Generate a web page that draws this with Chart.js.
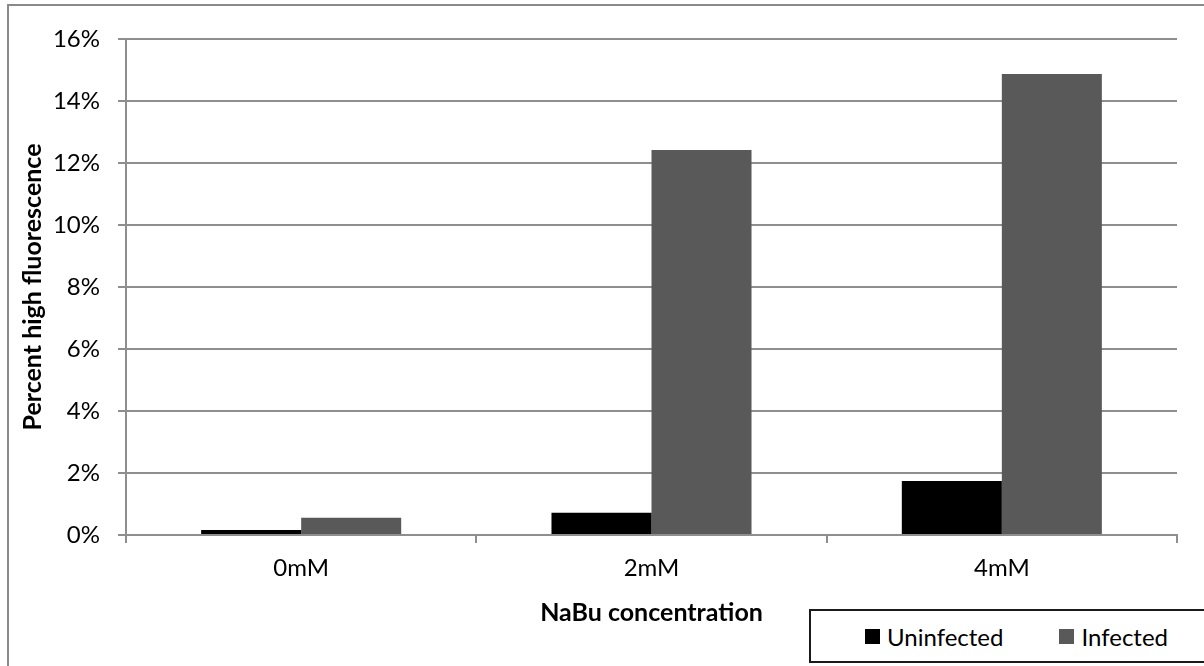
<!DOCTYPE html>
<html>
<head>
<meta charset="utf-8">
<script src="https://cdn.jsdelivr.net/npm/chart.js@4"></script>
<style>
  body { margin: 0; background: #fff; overflow: hidden; }
  .wrap { position: relative; width: 1204px; height: 666px; }
  .legend-box {
    position: absolute; left: 809px; top: 609px; width: 420px; height: 54px;
    border: 2px solid #1a1a1a; background: #fff;
    font-family: Lato, sans-serif; font-size: 24px; color: #000;
    display: flex; align-items: center; padding-left: 54px; box-sizing: border-box;
  }
  .legend-item { display: flex; align-items: center; margin-right: 56px; }
  .legend-swatch { width: 15px; height: 15px; margin-right: 7px; }
</style>
</head>
<body>
<div class="wrap">
  <canvas id="chart" width="1204" height="666"></canvas>
  <div class="legend-box" id="legend"></div>
</div>
<script>
const categories = ['0mM', '2mM', '4mM'];
const seriesNames = ['Uninfected', 'Infected'];
const uninfected = [0.16, 0.72, 1.74];
const infected = [0.56, 12.42, 14.87];
const seriesColors = ['#000000', '#595959'];

const gridColor = '#8e8e8e';

// outer chart frame like the spreadsheet export
const framePlugin = {
  id: 'frame',
  beforeDraw(chart) {
    const ctx = chart.ctx;
    ctx.save();
    ctx.fillStyle = '#fff';
    ctx.fillRect(0, 0, chart.width, chart.height);
    ctx.strokeStyle = '#8a8a8a';
    ctx.lineWidth = 2;
    ctx.strokeRect(8, 5, 1400, 900);
    ctx.restore();
  }
};

const ctx = document.getElementById('chart').getContext('2d');
new Chart(ctx, {
  type: 'bar',
  data: {
    labels: categories,
    datasets: [
      { label: seriesNames[0], data: uninfected, backgroundColor: seriesColors[0] },
      { label: seriesNames[1], data: infected, backgroundColor: seriesColors[1] },
    ],
  },
  options: {
    responsive: false,
    animation: false,
    barPercentage: 1,
    categoryPercentage: 0.571,
    layout: { padding: { top: 39, left: 18, right: 27, bottom: 38 } },
    plugins: {
      legend: { display: false },
      tooltip: { enabled: false },
    },
    scales: {
      x: {
        afterFit: (scale) => { scale.height = 93; },
        grid: { drawOnChartArea: false, drawTicks: true, tickLength: 8, color: gridColor, lineWidth: 2, offset: true },
        border: { color: gridColor, width: 2 },
        ticks: { color: '#000', padding: 11, font: { family: 'Lato', size: 24 } },
        title: {
          display: true,
          text: 'NaBu concentration',
          color: '#000',
          font: { family: 'Lato', size: 25, weight: 'bold' },
          padding: { top: 0, bottom: 0 },
        },
      },
      y: {
        min: 0,
        max: 16,
        afterFit: (scale) => { scale.width = 108; },
        grid: { color: gridColor, lineWidth: 2, tickLength: 8 },
        border: { color: gridColor, width: 2 },
        ticks: {
          stepSize: 2,
          color: '#000',
          padding: 18,
          font: { family: 'Lato', size: 24 },
          callback: (value) => value + '%',
        },
        title: {
          display: true,
          text: 'Percent high fluorescence',
          color: '#000',
          font: { family: 'Lato', size: 25, weight: 'bold' },
          padding: { top: 0, bottom: 0 },
        },
      },
    },
  },
  plugins: [framePlugin],
});

const legendEl = document.getElementById('legend');
seriesNames.forEach((name, i) => {
  const item = document.createElement('div');
  item.className = 'legend-item';
  const sw = document.createElement('span');
  sw.className = 'legend-swatch';
  sw.style.background = seriesColors[i];
  const txt = document.createElement('span');
  txt.textContent = name;
  item.appendChild(sw);
  item.appendChild(txt);
  legendEl.appendChild(item);
});
</script>
</body>
</html>
